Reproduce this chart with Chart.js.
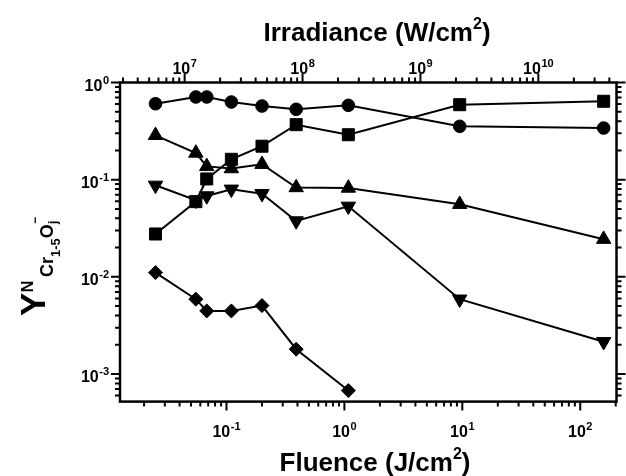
<!DOCTYPE html>
<html lang="en">
<head>
  <meta charset="UTF-8">
  <title>Cr cluster yield vs fluence</title>
  <script src="https://cdn.jsdelivr.net/npm/chart.js"></script>
  <style>
    html, body { margin: 0; padding: 0; background: #fff; }
    #wrap { width: 626px; height: 476px; }
  </style>
</head>
<body>
  <div id="wrap"><canvas id="yieldChart" width="626" height="476"></canvas></div>
  <script>
    // fluence of each measurement (J/cm2)
    const fluence = [0.025, 0.055, 0.068, 0.11, 0.2, 0.39, 1.08, 9.5, 158];
    // normalised yields, one list per marker shape
    const circleYield = [0.605, 0.71, 0.71, 0.63, 0.573, 0.53, 0.582, 0.354, 0.340];
    const squareYield = [0.0276, 0.0594, 0.1017, 0.162, 0.221, 0.368, 0.290, 0.591, 0.641];
    const triUpYield = [0.286, 0.188, 0.137, 0.130, 0.144, 0.083, 0.082, 0.0558, 0.0244];
    const triDownYield = [0.0875, 0.0614, 0.068, 0.0797, 0.0718, 0.0376, 0.0532, 0.00589, 0.00215];
    const diamondYield = [0.01105, 0.00589, 0.00446, 0.00446, 0.00506, 0.0018, 0.000675];

    // axis ranges and labelled decades
    const fluenceRange = [0.0125, 203];
    const irradianceRange = [2.83e6, 4.6e10];
    const yieldRange = [5.2e-4, 1];
    const fluenceTickExps = [-1, 0, 1, 2];
    const irradianceTickExps = [7, 8, 9, 10];
    const yTickExps = [-3, -2, -1, 0];

    const FONT = '"Liberation Sans", Arial, sans-serif';

    const points = (ys) => ys.map((y, i) => ({ x: fluence[i], y: y }));

    // draws a row of text pieces (for superscripts / subscripts)
    function drawParts(ctx, parts, x, y, align) {
      let total = 0;
      parts.forEach(p => {
        ctx.font = 'bold ' + p.size + 'px ' + FONT;
        p.w = ctx.measureText(p.t).width;
        total += p.w + (p.gap || 0);
      });
      let cx = x;
      if (align === 'center') cx = x - total / 2;
      if (align === 'right') cx = x - total;
      ctx.textAlign = 'left';
      ctx.textBaseline = 'alphabetic';
      parts.forEach(p => {
        ctx.font = 'bold ' + p.size + 'px ' + FONT;
        cx += (p.gap || 0);
        ctx.fillText(p.t, cx, y + (p.dy || 0));
        cx += p.w;
      });
    }

    const powParts = (e) => [{ t: '10', size: 16 }, { t: String(e), size: 11, dy: -7, gap: 0.5 }];

    function logTicks(range) {
      const out = [];
      const lo = Math.floor(Math.log10(range[0]));
      const hi = Math.ceil(Math.log10(range[1]));
      for (let e = lo; e <= hi; e++) {
        for (let m = 1; m <= 9; m++) {
          const v = m * Math.pow(10, e);
          if (v >= range[0] * 0.9999 && v <= range[1] * 1.0001) out.push({ v: v, major: m === 1 });
        }
      }
      return out;
    }

    // frame, ticks, tick labels and titles
    const axesPlugin = {
      id: 'axesPlugin',
      afterDraw(chart) {
        const ctx = chart.ctx;
        const a = chart.chartArea;
        const sx = chart.scales.x, sy = chart.scales.y, st = chart.scales.xTop;
        ctx.save();
        ctx.strokeStyle = '#000';
        ctx.fillStyle = '#000';

        ctx.lineWidth = 2;
        ctx.beginPath();
        logTicks(fluenceRange).forEach(t => {
          const px = sx.getPixelForValue(t.v);
          ctx.moveTo(px, a.bottom);
          ctx.lineTo(px, a.bottom + (t.major ? 9 : 5));
        });
        logTicks(irradianceRange).forEach(t => {
          const px = st.getPixelForValue(t.v);
          ctx.moveTo(px, a.top);
          ctx.lineTo(px, a.top - (t.major ? 9 : 5));
        });
        logTicks(yieldRange).forEach(t => {
          const py = sy.getPixelForValue(t.v);
          const len = t.major ? 9 : 5;
          ctx.moveTo(a.left, py);
          ctx.lineTo(a.left - len, py);
          ctx.moveTo(a.right, py);
          ctx.lineTo(a.right + len, py);
        });
        ctx.stroke();

        ctx.lineWidth = 2.5;
        ctx.strokeRect(a.left, a.top, a.right - a.left, a.bottom - a.top);

        fluenceTickExps.forEach(e => {
          drawParts(ctx, powParts(e), sx.getPixelForValue(Math.pow(10, e)), a.bottom + 35, 'center');
        });
        irradianceTickExps.forEach(e => {
          drawParts(ctx, powParts(e), st.getPixelForValue(Math.pow(10, e)), a.top - 9, 'center');
        });
        yTickExps.forEach(e => {
          drawParts(ctx, powParts(e), a.left - 11, sy.getPixelForValue(Math.pow(10, e)) + 8, 'right');
        });

        drawParts(ctx, [
          { t: 'Fluence (J/cm', size: 26 },
          { t: '2', size: 16, dy: -12 },
          { t: ')', size: 26 }
        ], 375, 471, 'center');
        drawParts(ctx, [
          { t: 'Irradiance (W/cm', size: 26 },
          { t: '2', size: 16, dy: -12 },
          { t: ')', size: 26 }
        ], 377, 41, 'center');

        // rotated y title: Y^N with subscript Cr(1-5)O(j)^-
        ctx.translate(45, 316);
        ctx.rotate(-Math.PI / 2);
        drawParts(ctx, [
          { t: 'Y', size: 35 },
          { t: 'N', size: 16, dy: -12, gap: 0.5 }
        ], 0, 0, 'left');
        drawParts(ctx, [
          { t: 'Cr', size: 18, dy: 8 },
          { t: '1-5', size: 13, dy: 15 },
          { t: 'O', size: 18, dy: 8 }
        ], 39, 0, 'left');
        drawParts(ctx, [{ t: 'j', size: 12, dy: 12 }], 92, 0, 'left');
        drawParts(ctx, [{ t: '\u2212', size: 12, dy: -6 }], 92, 0, 'left');
        ctx.restore();
      }
    };

    const series = [
      { data: circleYield, style: 'circle', radius: 6.3, rotation: 0 },
      { data: squareYield, style: 'rect', radius: 8.5, rotation: 0 },
      { data: triUpYield, style: 'triangle', radius: 8.3, rotation: 0 },
      { data: triDownYield, style: 'triangle', radius: 8.3, rotation: 180 },
      { data: diamondYield, style: 'rectRot', radius: 7, rotation: 0 }
    ];

    new Chart(document.getElementById('yieldChart').getContext('2d'), {
      type: 'scatter',
      data: {
        datasets: series.map(s => ({
          data: points(s.data),
          showLine: true,
          borderColor: '#000',
          borderWidth: 2,
          backgroundColor: '#000',
          pointStyle: s.style,
          pointRadius: s.radius,
          pointRotation: s.rotation,
          pointBackgroundColor: '#000',
          pointBorderColor: '#000',
          pointBorderWidth: 1,
          clip: false
        }))
      },
      options: {
        responsive: false,
        animation: false,
        events: [],
        layout: { padding: { left: 120, right: 6, top: 82.5, bottom: 74.4 } },
        plugins: { legend: { display: false }, tooltip: { enabled: false } },
        scales: {
          x: { type: 'logarithmic', display: false, min: fluenceRange[0], max: fluenceRange[1] },
          xTop: { type: 'logarithmic', axis: 'x', position: 'top', display: false, min: irradianceRange[0], max: irradianceRange[1] },
          y: { type: 'logarithmic', display: false, min: yieldRange[0], max: yieldRange[1] }
        }
      },
      plugins: [axesPlugin]
    });
  </script>
</body>
</html>
